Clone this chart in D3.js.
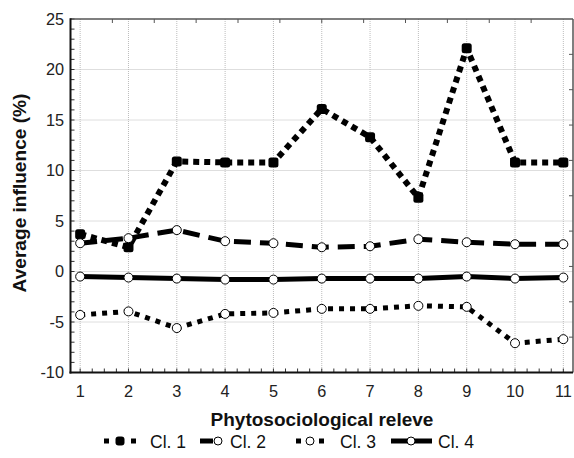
<!DOCTYPE html>
<html><head><meta charset="utf-8">
<script src="https://cdn.jsdelivr.net/npm/d3@7"></script>
<style>body{margin:0;background:#fff}svg{font-family:"Liberation Sans",Arial,sans-serif}</style>
</head><body><svg id="c" width="574" height="458"></svg>
<script>
const releves = [1,2,3,4,5,6,7,8,9,10,11];
const cl1 = [3.7, 2.4, 10.9, 10.8, 10.8, 16.1, 13.3, 7.3, 22.1, 10.8, 10.8];
const cl2 = [2.8, 3.3, 4.1, 3.0, 2.8, 2.4, 2.5, 3.2, 2.9, 2.7, 2.7];
const cl3 = [-4.3, -3.95, -5.6, -4.2, -4.1, -3.7, -3.7, -3.4, -3.5, -7.1, -6.7];
const cl4 = [-0.5, -0.6, -0.7, -0.8, -0.8, -0.7, -0.7, -0.7, -0.5, -0.7, -0.6];
const yTicks = [-10,-5,0,5,10,15,20,25];
const seriesNames = ["Cl. 1","Cl. 2","Cl. 3","Cl. 4"];

const svg = d3.select("#c");
const L = 70.5, R = 573, T = 19, B = 372.5;
const x = d3.scaleLinear().domain([0.8, 11.2]).range([L, R]);
const y = d3.scaleLinear().domain([-10, 25]).range([B, T]);

// grid
const g = svg.append("g");
g.selectAll(".vx").data(releves).join("line")
  .attr("x1", d=>x(d)).attr("x2", d=>x(d)).attr("y1", T).attr("y2", B)
  .attr("stroke", "#bdbdbd").attr("stroke-dasharray", "1,1");
g.selectAll(".hy").data(yTicks.slice(1,-1)).join("line")
  .attr("y1", d=>y(d)).attr("y2", d=>y(d)).attr("x1", L).attr("x2", R)
  .attr("stroke", "#bdbdbd").attr("stroke-dasharray", "1,1");

// minor ticks
const minorY = d3.range(-10, 25.01, 1);
g.selectAll(".my").data(minorY).join("line")
  .attr("x1", L).attr("x2", L+4).attr("y1", d=>y(d)).attr("y2", d=>y(d)).attr("stroke", "#333");
const minorX = d3.range(1, 11.01, 0.25);
g.selectAll(".mx").data(minorX).join("line")
  .attr("y1", B).attr("y2", B-4).attr("x1", d=>x(d)).attr("x2", d=>x(d)).attr("stroke", "#333");
g.selectAll(".tx").data(d3.range(1, 12)).join("line")
  .attr("y1", T).attr("y2", T+4).attr("x1", d=>L+(R-L)*d/12).attr("x2", d=>L+(R-L)*d/12).attr("stroke", "#555");
g.selectAll(".ry").data(d3.range(1, 10)).join("line")
  .attr("x1", R).attr("x2", R-4).attr("y1", d=>T+(B-T)*d/10).attr("y2", d=>T+(B-T)*d/10).attr("stroke", "#555");

// frame
svg.append("line").attr("x1", L).attr("x2", R).attr("y1", T).attr("y2", T).attr("stroke", "#555").attr("stroke-width", 1.5);
svg.append("line").attr("x1", R).attr("x2", R).attr("y1", T).attr("y2", B).attr("stroke", "#555").attr("stroke-width", 1.5);
svg.append("line").attr("x1", L).attr("x2", L).attr("y1", T-0.75).attr("y2", B+1).attr("stroke", "#111").attr("stroke-width", 2);
svg.append("line").attr("x1", L-1).attr("x2", R).attr("y1", B).attr("y2", B).attr("stroke", "#111").attr("stroke-width", 2);

// axes tick labels
svg.selectAll(".yl").data(yTicks).join("text")
  .attr("x", L-6.5).attr("y", d=>y(d)+5.8).attr("text-anchor", "end")
  .attr("font-size", 16.3).attr("fill", "#222").text(d=>d);
svg.selectAll(".xl").data(releves).join("text")
  .attr("x", d=>x(d)).attr("y", 396.5).attr("text-anchor", "middle")
  .attr("font-size", 16.3).attr("fill", "#222").text(d=>d);

svg.append("text").attr("x", 322).attr("y", 426).attr("text-anchor", "middle")
  .attr("font-size", 19).attr("font-weight", "bold").attr("fill", "#111").text("Phytosociological releve");
svg.append("text").attr("transform", `translate(26,193) rotate(-90)`).attr("text-anchor", "middle")
  .attr("font-size", 19.1).attr("font-weight", "bold").attr("fill", "#111").text("Average influence (%)");

const line = d3.line().x((d,i)=>x(releves[i])).y(d=>y(d));
const styles = [
  {data: cl1, w: 6, dash: "6,5", filled: true},
  {data: cl2, w: 5, dash: "17,9", filled: false},
  {data: cl3, w: 5, dash: "5,6", filled: false},
  {data: cl4, w: 5, dash: null, filled: false}
];
const plot = svg.append("g");
styles.forEach(s => {
  plot.append("path").datum(s.data).attr("d", line).attr("fill", "none")
    .attr("stroke", "#000").attr("stroke-width", s.w)
    .attr("stroke-dasharray", s.dash).attr("stroke-linejoin", "round");
});
styles.forEach(s => {
  if (s.filled) {
    plot.selectAll(null).data(s.data).join("rect")
      .attr("x", (d,i)=>x(releves[i])-5).attr("y", d=>y(d)-5)
      .attr("width", 10).attr("height", 10).attr("rx", 2.5).attr("fill", "#000");
  } else {
    plot.selectAll(null).data(s.data).join("circle")
      .attr("cx", (d,i)=>x(releves[i])).attr("cy", d=>y(d)).attr("r", 4.5)
      .attr("fill", "#fff").attr("stroke", "#000").attr("stroke-width", 1);
  }
});

// legend
const ly = 441;
const lg = svg.append("g");
// Cl.1
lg.append("rect").attr("x", 104).attr("y", ly-2.5).attr("width", 5).attr("height", 5).attr("fill", "#000");
lg.append("rect").attr("x", 131).attr("y", ly-2.5).attr("width", 5).attr("height", 5).attr("fill", "#000");
lg.append("rect").attr("x", 115.5).attr("y", ly-4.5).attr("width", 9).attr("height", 9).attr("rx", 3).attr("fill", "#000");
// Cl.2
lg.append("line").attr("x1", 200).attr("x2", 213).attr("y1", ly).attr("y2", ly).attr("stroke", "#000").attr("stroke-width", 5);
lg.append("circle").attr("cx", 218).attr("cy", ly).attr("r", 4).attr("fill", "#fff").attr("stroke", "#000");
// Cl.3
lg.append("rect").attr("x", 296).attr("y", ly-2.5).attr("width", 5).attr("height", 5).attr("fill", "#000");
lg.append("rect").attr("x", 319).attr("y", ly-2.5).attr("width", 5).attr("height", 5).attr("fill", "#000");
lg.append("circle").attr("cx", 310).attr("cy", ly).attr("r", 4).attr("fill", "#fff").attr("stroke", "#000");
// Cl.4
lg.append("line").attr("x1", 391).attr("x2", 432).attr("y1", ly).attr("y2", ly).attr("stroke", "#000").attr("stroke-width", 5);
lg.append("circle").attr("cx", 411).attr("cy", ly).attr("r", 4).attr("fill", "#fff").attr("stroke", "#000");
const lx = [150, 230, 340, 438];
lg.selectAll("text").data(seriesNames).join("text")
  .attr("x", (d,i)=>lx[i]).attr("y", ly+6.5).attr("font-size", 17.5).attr("fill", "#111").text(d=>d);
</script></body></html>
